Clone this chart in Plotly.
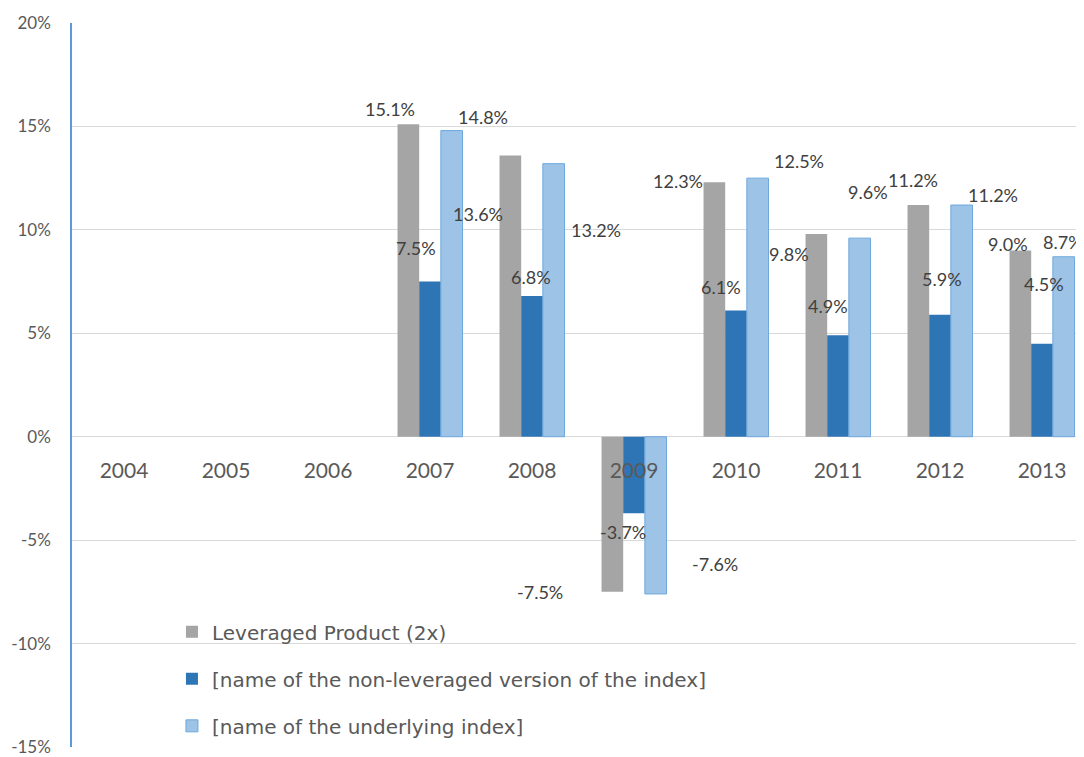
import plotly.graph_objects as go

years = ["2004", "2005", "2006", "2007", "2008", "2009", "2010", "2011", "2012", "2013"]
leveraged = [None, None, None, 15.1, 13.6, -7.5, 12.3, 9.8, 11.2, 9.0]
non_leveraged = [None, None, None, 7.5, 6.8, -3.7, 6.1, 4.9, 5.9, 4.5]
underlying = [None, None, None, 14.8, 13.2, -7.6, 12.5, 9.6, 11.2, 8.7]

series_names = [
    "Leveraged Product (2x)",
    "[name of the non-leveraged version of the index]",
    "[name of the underlying index]",
]

y_ticks = [-15, -10, -5, 0, 5, 10, 15, 20]
y_tick_labels = ["-15%", "-10%", "-5%", "0%", "5%", "10%", "15%", "20%"]

# label nudges (pixels) relative to category centre / bar end, mimicking the manually placed Excel labels
label_dx = [
    [None, None, None, -40, -54, -94, -58, -49, -27, -34],
    [None, None, None, -14, -1, -11, -15, -10, 2, 2],
    [None, None, None, 53, 64, 81, 63, 30, 53, 21],
]
label_dy = [
    [None, None, None, 15, -59, 0, 1, -20, 25, 7],
    [None, None, None, 34, 19, -19, 24, 29, 36, 60],
    [None, None, None, 14, -66, 30, 17, 46, 10, 15],
]

colors = ["#A5A5A5", "#2E75B6", "#9DC3E6"]
line_colors = ["#A5A5A5", "#2E75B6", "#6FA8DC"]
line_widths = [0, 0, 1]

FONT = "Lato, Noto Sans, sans-serif"
LEGEND_FONT = "DejaVu Sans, Open Sans, sans-serif"

fig = go.Figure()
all_values = [leveraged, non_leveraged, underlying]
for i, (name, vals) in enumerate(zip(series_names, all_values)):
    fig.add_trace(go.Bar(
        x=years, y=vals, name=name,
        marker=dict(color=colors[i], line=dict(color=line_colors[i], width=line_widths[i])),
        legendgroup=f"g{i}",
    ))

annotations = []
for i, vals in enumerate(all_values):
    for j, v in enumerate(vals):
        if v is None:
            continue
        annotations.append(dict(
            x=j, y=v, xref="x", yref="y",
            text=f"{v:.1f}%", showarrow=False,
            xshift=label_dx[i][j], yshift=label_dy[i][j],
            font=dict(family=FONT, size=18, color="#404040"),
        ))

fig.update_layout(
    width=1084, height=757, autosize=False,
    margin=dict(l=64, r=0, t=15, b=18, autoexpand=False),
    paper_bgcolor="white", plot_bgcolor="white",
    barmode="group", bargap=0.363, bargroupgap=0,
    annotations=annotations,
    showlegend=True,
    legend=dict(
        x=0.098, y=0.186, xanchor="left", yanchor="top",
        orientation="v", bgcolor="rgba(0,0,0,0)",
        font=dict(family=LEGEND_FONT, size=20, color="#595959"),
        tracegroupgap=18, traceorder="grouped",
    ),
    xaxis=dict(
        type="category", categoryorder="array", categoryarray=years,
        range=[-0.51, 9.49], automargin=False,
        anchor="free", position=15 / 35,
        showline=False, showgrid=False, ticks="", zeroline=False,
        tickfont=dict(family=FONT, size=21, color="#595959"),
        ticklabelstandoff=19,
    ),
    yaxis=dict(
        range=[-15, 20], automargin=False,
        tickvals=y_ticks, ticktext=y_tick_labels,
        showgrid=True, gridcolor="#D9D9D9", gridwidth=1,
        zeroline=False,
        showline=True, linecolor="#5B9BD5", linewidth=1.5,
        ticks="",
        tickfont=dict(family=FONT, size=17, color="#595959"),
        ticklabelstandoff=16,
    ),
)

fig.write_html("out.html")
